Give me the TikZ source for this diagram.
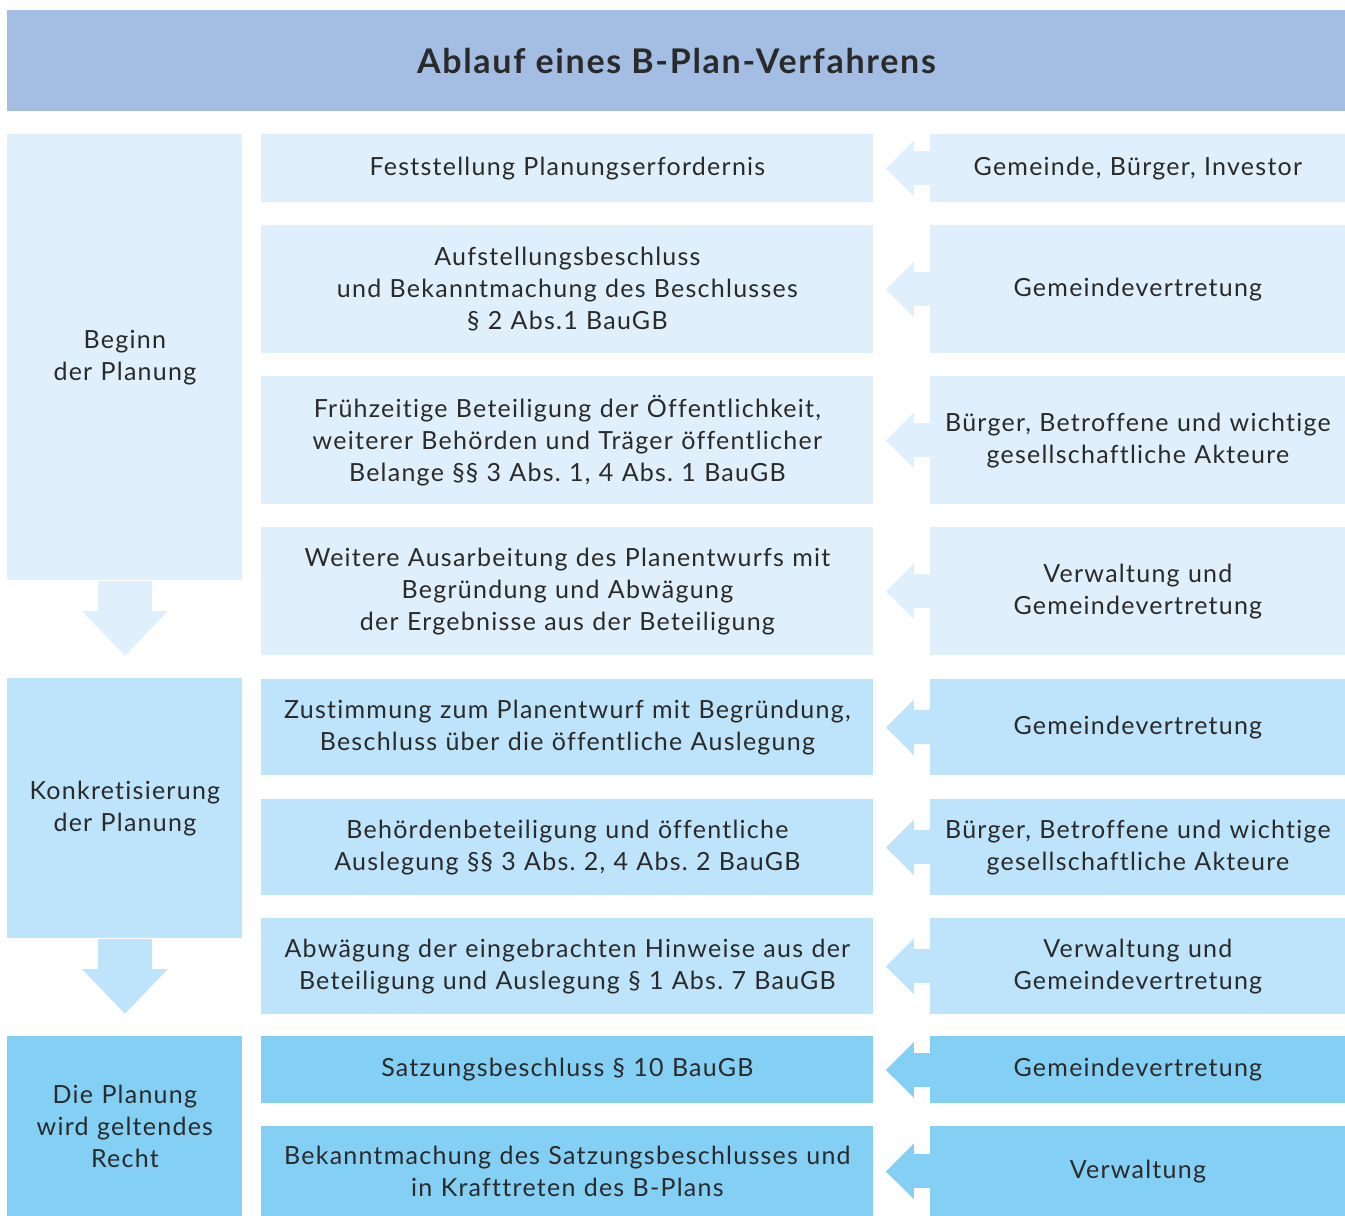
\documentclass[tikz,border=0pt]{standalone}
\usepackage{fontspec}
\setmainfont{Lato}[LetterSpace=5, Ligatures=NoCommon]
\usetikzlibrary{arrows.meta}
\definecolor{headblue}{HTML}{A4BEE3}
\definecolor{rowlight}{HTML}{DFF0FC}
\definecolor{rowmid}{HTML}{BDE4FA}
\definecolor{rowdark}{HTML}{84D0F4}
\definecolor{txt}{HTML}{2A2A2A}
\tikzset{
  box/.style={anchor=north west, inner sep=0pt, align=center, text=txt,
    font=\fontsize{12.5}{16}\selectfont\frenchspacing},
  leftbox/.style={box, minimum width=117.5pt, text width=114pt},
  midbox/.style={box, minimum width=306pt, text width=304pt},
  rightbox/.style={box, minimum width=207.5pt, text width=205pt},
  leftarrow/.style={draw=#1, line width=17pt, shorten >=6pt,
    -{Triangle[length=14pt, width=27pt]}},
  downarrow/.style={draw=#1, line width=27pt, shorten >=11pt,
    -{Triangle[length=22.5pt, width=41.5pt]}}
}
\begin{document}
\begin{tikzpicture}[x=0.5pt, y=-0.5pt]
  \useasboundingbox (0,0) rectangle (1345,1216);
  % title
  \node[box, fill=headblue, minimum width=669pt, minimum height=50.5pt,
    font=\fontsize{17}{20}\bfseries\selectfont] (title) at (7,10)
    {Ablauf eines B-Plan-Verfahrens};
  % phases
  \node[leftbox, fill=rowlight, minimum height=223pt] (l1) at (7,134)
    {Beginn\\der Planung};
  \node[leftbox, fill=rowmid, minimum height=130pt] (l2) at (7,678)
    {Konkretisierung\\der Planung};
  \node[leftbox, fill=rowdark, minimum height=90pt] (l3) at (7,1036)
    {Die Planung\\wird geltendes\\Recht};
  % steps
  \node[midbox, fill=rowlight, minimum height=34pt] (m1) at (261,134)
    {Feststellung Planungserfordernis};
  \node[midbox, fill=rowlight, minimum height=64pt] (m2) at (261,225)
    {Aufstellungsbeschluss\\und Bekanntmachung des Beschlusses\\§ 2 Abs.1 BauGB};
  \node[midbox, fill=rowlight, minimum height=64pt] (m3) at (261,376)
    {Frühzeitige Beteiligung der Öffentlichkeit,\\weiterer Behörden und Träger öffentlicher\\Belange §§ 3 Abs. 1, 4 Abs. 1 BauGB};
  \node[midbox, fill=rowlight, minimum height=64pt] (m4) at (261,527)
    {Weitere Ausarbeitung des Planentwurfs mit\\Begründung und Abwägung\\der Ergebnisse aus der Beteiligung};
  \node[midbox, fill=rowmid, minimum height=48pt] (m5) at (261,679)
    {Zustimmung zum Planentwurf mit Begründung,\\Beschluss über die öffentliche Auslegung};
  \node[midbox, fill=rowmid, minimum height=48pt] (m6) at (261,799)
    {Behördenbeteiligung und öffentliche\\Auslegung §§ 3 Abs. 2, 4 Abs. 2 BauGB};
  \node[midbox, fill=rowmid, minimum height=48pt] (m7) at (261,918)
    {Abwägung der eingebrachten Hinweise aus der\\Beteiligung und Auslegung § 1 Abs. 7 BauGB};
  \node[midbox, fill=rowdark, minimum height=33.5pt] (m8) at (261,1036)
    {Satzungsbeschluss § 10 BauGB};
  \node[midbox, fill=rowdark, minimum height=45pt] (m9) at (261,1126)
    {Bekanntmachung des Satzungsbeschlusses und\\in Krafttreten des B-Plans};
  % actors
  \node[rightbox, fill=rowlight, minimum height=34pt] (r1) at (930,134)
    {Gemeinde, Bürger, Investor};
  \node[rightbox, fill=rowlight, minimum height=64pt] (r2) at (930,225)
    {Gemeindevertretung};
  \node[rightbox, fill=rowlight, minimum height=64pt] (r3) at (930,376)
    {Bürger, Betroffene und wichtige\\gesellschaftliche Akteure};
  \node[rightbox, fill=rowlight, minimum height=64pt] (r4) at (930,527)
    {Verwaltung und\\Gemeindevertretung};
  \node[rightbox, fill=rowmid, minimum height=48pt] (r5) at (930,679)
    {Gemeindevertretung};
  \node[rightbox, fill=rowmid, minimum height=48pt] (r6) at (930,799)
    {Bürger, Betroffene und wichtige\\gesellschaftliche Akteure};
  \node[rightbox, fill=rowmid, minimum height=48pt] (r7) at (930,918)
    {Verwaltung und\\Gemeindevertretung};
  \node[rightbox, fill=rowdark, minimum height=33.5pt] (r8) at (930,1036)
    {Gemeindevertretung};
  \node[rightbox, fill=rowdark, minimum height=45pt] (r9) at (930,1126)
    {Verwaltung};
  % arrows
  \foreach \i/\c in {1/rowlight,2/rowlight,3/rowlight,4/rowlight,
      5/rowmid,6/rowmid,7/rowmid,8/rowdark,9/rowdark}
    \draw[leftarrow=\c] (r\i.west) -- (m\i.east);
  \draw[downarrow=rowlight] (l1.south) -- (l2.north);
  \draw[downarrow=rowmid] (l2.south) -- (l3.north);
\end{tikzpicture}
\end{document}
